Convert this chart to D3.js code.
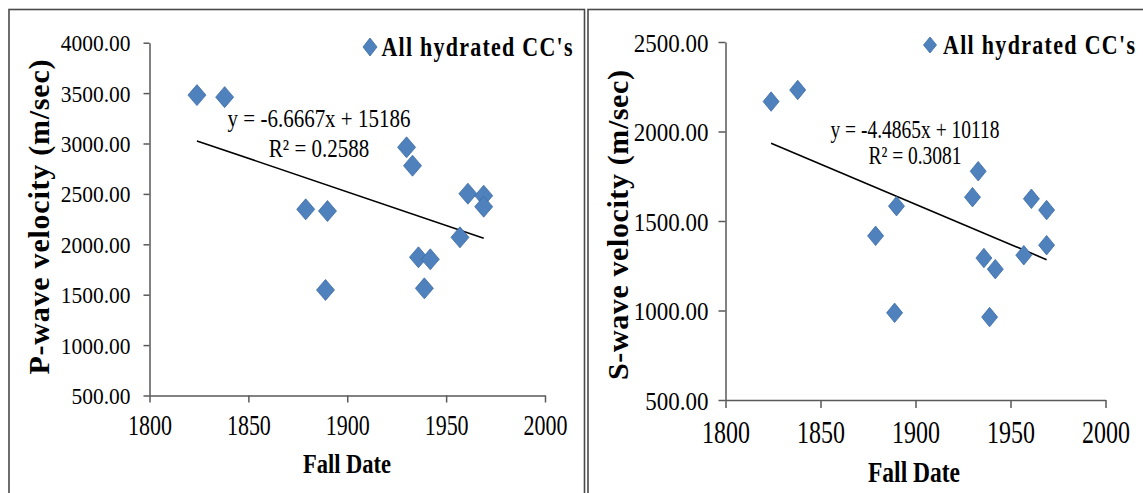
<!DOCTYPE html>
<html>
<head>
<meta charset="utf-8">
<script src="https://cdn.jsdelivr.net/npm/d3@7"></script>
<style>
  body { margin: 0; background: #fff; }
  svg { display: block; }
</style>
</head>
<body>
<svg id="chart" width="1143" height="493"></svg>
<script>
// Meteorite samples: fall date and measured wave velocities (m/sec)
const fallDates     = [1824, 1838, 1879, 1889, 1890, 1930, 1933, 1936, 1939, 1942, 1957, 1961, 1969, 1969];
const pWaveVelocity = [3480, 3460, 2347, 1547, 2330, 2962, 2780, 1871, 1563, 1851, 2069, 2502, 2482, 2373];
const sWaveVelocity = [2167, 2232, 1417,  987, 1583, 1633, 1778, 1293,  963, 1231, 1309, 1624, 1561, 1365];

const dateTicks = [1800, 1850, 1900, 1950, 2000];
const pTicks = [500, 1000, 1500, 2000, 2500, 3000, 3500, 4000];
const sTicks = [500, 1000, 1500, 2000, 2500];

// Linear trend lines: [slope, intercept] and R²
const pTrend = [-6.6667, 15186];
const pR2 = 0.2588;
const sTrend = [-4.4865, 10118];
const sR2 = 0.3081;

const seriesName = "All hydrated CC's";
const xTitle = "Fall Date";
const pTitle = "P-wave velocity (m/sec)";
const sTitle = "S-wave velocity (m/sec)";

const FONT = "'Liberation Serif','Times New Roman',serif";
const AXIS_COLOR = "#595959";
const POINT_FILL = "#4f81bd";
const POINT_EDGE = "#3d6ca6";

const svg = d3.select("#chart");

// Panel frames
svg.append("rect").attr("x", 9).attr("y", 9.5).attr("width", 575.5).attr("height", 520)
  .attr("fill", "none").attr("stroke", "#4a4a4a").attr("stroke-width", 1.6);
svg.append("rect").attr("x", 588).attr("y", 9.5).attr("width", 600).attr("height", 520)
  .attr("fill", "none").attr("stroke", "#4a4a4a").attr("stroke-width", 1.6);

function label(g, str, x, y, o) {
  let tf = `translate(${x},${y}) scale(1,${o.sy || 1})`;
  if (o.rotate) tf += ` rotate(${o.rotate})`;
  const t = g.append("text")
    .attr("transform", tf)
    .attr("text-anchor", o.anchor || "middle")
    .style("font-family", FONT)
    .style("font-size", o.size + "px")
    .style("font-weight", o.bold ? "bold" : "normal")
    .attr("fill", "#000")
    .text(str);
  if (o.length) t.attr("textLength", o.length).attr("lengthAdjust", "spacing");
  return t;
}

function diamond(w, h) {
  return `M0,${-h / 2}L${w / 2},0L0,${h / 2}L${-w / 2},0Z`;
}

function drawPanel(c) {
  const g = svg.append("g");
  const x = d3.scaleLinear().domain([dateTicks[0], dateTicks[dateTicks.length - 1]]).range(c.xRange);
  const y = d3.scaleLinear().domain([c.yTicks[0], c.yTicks[c.yTicks.length - 1]]).range(c.yRange);

  // Axes
  const yAxis = g.append("g").attr("transform", `translate(${c.xRange[0]},0)`)
    .call(d3.axisLeft(y).tickValues(c.yTicks).tickSize(c.yTick).tickSizeOuter(0).tickFormat(d3.format(".2f")));
  const xAxis = g.append("g").attr("transform", `translate(0,${c.yRange[0]})`)
    .call(d3.axisBottom(x).tickValues(dateTicks).tickSize(c.xTick).tickSizeOuter(0).tickFormat(d3.format("d")));
  [yAxis, xAxis].forEach(a => {
    a.selectAll("path, line").attr("stroke", AXIS_COLOR).attr("stroke-width", 1.5);
  });
  yAxis.selectAll("text")
    .attr("x", null).attr("dy", null)
    .attr("transform", `translate(${-(c.yTick + c.yPad)},${c.yLabelDy}) scale(1,${c.yLabelSy})`)
    .attr("text-anchor", "end")
    .style("font-family", FONT).style("font-size", c.yLabelSize + "px").attr("fill", "#000");
  xAxis.selectAll("text")
    .attr("y", null).attr("dy", null)
    .attr("transform", `translate(0,${c.xLabelDy}) scale(1,${c.xLabelSy})`)
    .attr("text-anchor", "middle")
    .style("font-family", FONT).style("font-size", c.xLabelSize + "px").attr("fill", "#000");

  // Trend line across the span of fall dates
  const [slope, intercept] = c.trend;
  const xs = d3.extent(fallDates);
  g.append("path")
    .attr("d", d3.line()(xs.map(d => [x(d), y(slope * d + intercept)])))
    .attr("stroke", "#000").attr("stroke-width", 1.6).attr("fill", "none");

  // Data points
  g.selectAll("path.pt").data(fallDates.map((d, i) => [d, c.values[i]])).join("path")
    .attr("class", "pt")
    .attr("transform", d => `translate(${x(d[0])},${y(d[1])})`)
    .attr("d", diamond(c.ptW, c.ptH))
    .attr("fill", POINT_FILL).attr("stroke", POINT_EDGE).attr("stroke-width", 0.8);

  // Legend
  g.append("path").attr("transform", `translate(${c.legend.mx},${c.legend.my})`)
    .attr("d", diamond(c.legend.w, c.legend.h))
    .attr("fill", POINT_FILL).attr("stroke", POINT_EDGE).attr("stroke-width", 0.8);
  label(g, seriesName, c.legend.tx, c.legend.ty, { size: 22, bold: true, anchor: "start", sy: 1.2, length: c.legend.len });

  // Trend equation
  label(g, `y = ${slope}x + ${intercept}`, c.eq.cx, c.eq.y1, { size: c.eq.size, sy: c.eq.sy });
  label(g, `R² = ${c.r2}`, c.eq.cx, c.eq.y2, { size: c.eq.size, sy: c.eq.sy });

  // Axis titles
  label(g, xTitle, c.xt.cx, c.xt.y, { size: c.xt.size, bold: true, sy: 1.25 });
  label(g, c.yTitle, c.yt.x, c.yt.cy, { size: 30, bold: true, rotate: -90, length: c.yt.len });
}

drawPanel({
  values: pWaveVelocity, yTicks: pTicks, trend: pTrend, r2: pR2, yTitle: pTitle,
  xRange: [149.5, 545], yRange: [395.5, 42.7],
  yTick: 6, yPad: 13, yLabelDy: 8, yLabelSy: 1.12, yLabelSize: 21.5,
  xTick: 7, xLabelDy: 39, xLabelSy: 1.3, xLabelSize: 22,
  ptW: 18, ptH: 21,
  legend: { mx: 370, my: 47, w: 14, h: 18, tx: 381.5, ty: 56, len: 191 },
  eq: { cx: 319, y1: 126.5, y2: 156.5, size: 21, sy: 1.18 },
  xt: { cx: 347, y: 473, size: 22.5 },
  yt: { x: 49, cy: 217, len: 315 }
});

drawPanel({
  values: sWaveVelocity, yTicks: sTicks, trend: sTrend, r2: sR2, yTitle: sTitle,
  xRange: [725.5, 1105.5], yRange: [400, 42],
  yTick: 7, yPad: 10, yLabelDy: 9, yLabelSy: 1.08, yLabelSize: 23,
  xTick: 8, xLabelDy: 43, xLabelSy: 1.3, xLabelSize: 24,
  ptW: 16, ptH: 19.5,
  legend: { mx: 930, my: 45, w: 13, h: 16, tx: 943, ty: 54.3, len: 192 },
  eq: { cx: 915, y1: 138.3, y2: 164, size: 19.5, sy: 1.25 },
  xt: { cx: 914, y: 482, size: 23.5 },
  yt: { x: 628, cy: 225, len: 310 }
});
</script>
</body>
</html>
